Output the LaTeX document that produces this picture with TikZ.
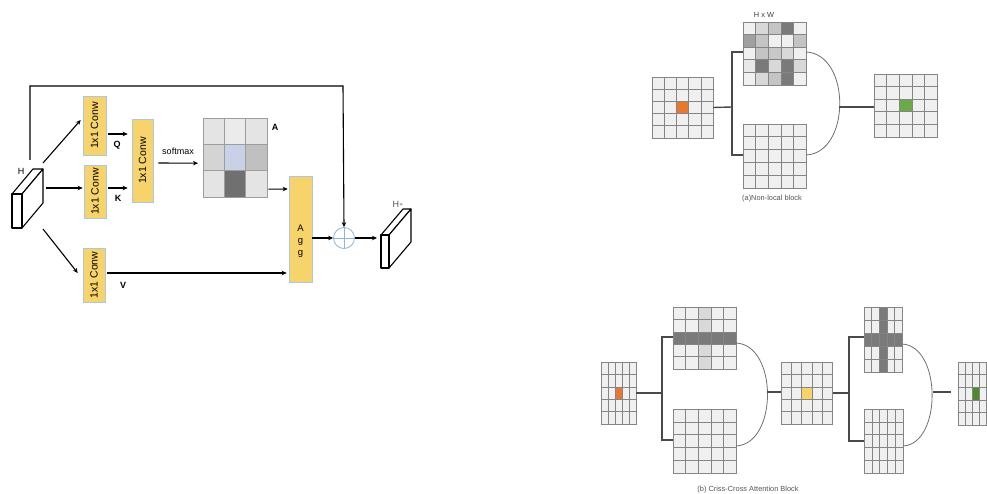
\documentclass[tikz,border=0pt]{standalone}
\usepackage{fontspec}
\setmainfont{Liberation Sans}
\usetikzlibrary{arrows.meta,calc}

\definecolor{convfill}{HTML}{F7D36B}
\definecolor{convedge}{HTML}{A9C9E3}
\definecolor{cellfill}{HTML}{F0F0F0}
\definecolor{cellline}{HTML}{858585}
\definecolor{linkgray}{HTML}{4A4A4A}
\definecolor{arcgray}{HTML}{707070}
\definecolor{capgray}{HTML}{555555}
\definecolor{plusblue}{HTML}{8DB6DD}
\definecolor{orangecell}{HTML}{E8782F}
\definecolor{greencellA}{HTML}{6AAA48}
\definecolor{greencellB}{HTML}{4E8A2C}
\definecolor{yellowcell}{HTML}{F5D46A}
\definecolor{softblue}{HTML}{C9D1E6}

\tikzset{
  conv/.style={draw=convedge, fill=convfill, line width=0.6pt, inner sep=0pt,
               font=\fontsize{10.5}{11}\selectfont},
  arr/.style={-{Stealth[length=5pt,width=4.5pt]}, line width=1.1pt, black},
  cellbox/.style={draw=cellline, fill=cellfill, line width=0.6pt},
  link/.style={draw=linkgray, line width=1.4pt},
  fuse/.style={draw=arcgray, line width=0.8pt},
  slab/.style={draw=black, line width=1.1pt, fill=white, line join=round},
  lbl/.style={font=\fontsize{9}{10}\selectfont, inner sep=0pt},
  captext/.style={font=\fontsize{7.4}{8}\selectfont, text=capgray, inner sep=0pt},
}

% 5x5 grid of cells: name, left, top, cell width, cell height
\newcommand\cellgrid[5]{%
  \node[inner sep=0pt, outer sep=0pt, minimum width={5*#4pt}, minimum height={5*#5pt},
        anchor=north west] (#1) at (#2,#3) {};
  \foreach \ci in {0,...,4}{\foreach \cj in {0,...,4}{
    \draw[cellbox] ({#2+\ci*#4},{#3+\cj*#5}) rectangle ++(#4,#5);}}%
}
% one coloured cell: left, top, cell width, cell height, column, row, colour
\newcommand\paintcell[7]{%
  \draw[cellbox, fill=#7] ({#1+#5*#3},{#2+#6*#4}) rectangle ++(#3,#4);%
}

\begin{document}
\begin{tikzpicture}[x=1pt,y=-1pt]
\useasboundingbox (0,0) rectangle (987,494);
\clip (0,0) rectangle (987,494);
\fill[white] (0,0) rectangle (987,494);

% ---------------- attention module (left) ----------------
% input feature slab H
\draw[slab] (12,194) -- (33,169) -- (43,169) -- (22,194) -- cycle;
\draw[slab] (22,194) -- (43,169) -- (43,203) -- (22,228) -- cycle;
\draw[slab] (12,194) rectangle (22,228);
\node[lbl] (hlabel) at (21,171) {H};
\coordinate (hq) at (43,163);
\coordinate (hk) at (46,188);
\coordinate (hv) at (43,229);
\coordinate (htop) at (30,160);

% 1x1 convolutions
\node[conv, minimum width=23pt, minimum height=59pt] (qc) at (94.5,125.5) {\rotatebox{90}{1x1 Conw}};
\node[conv, minimum width=22pt, minimum height=53pt] (kc) at (95,191.5) {\rotatebox{90}{1x1 Conw}};
\node[conv, minimum width=22pt, minimum height=54pt] (vc) at (94,275) {\rotatebox{90}{1x1 Conw}};
\node[conv, minimum width=21pt, minimum height=83pt] (mc) at (142.5,160.5) {\rotatebox{90}{1x1 Conw}};
\node[conv, minimum width=23pt, minimum height=106pt] (agg) at (300.5,229) {};
\node[lbl, align=center, font=\fontsize{9.5}{12}\selectfont] (aggtxt) at (300.5,241) {A\\g\\g};

% affinity map A
\node[inner sep=0pt, minimum width=64pt, minimum height=79pt, anchor=north west] (amap) at (203,118) {};
\foreach \c/\r/\g in {0/0/228,1/0/235,2/0/228,0/1/212,2/1/192,0/2/228,1/2/112,2/2/228}{
  \draw[draw=cellline!80, line width=0.6pt, fill={rgb,255:red,\g;green,\g;blue,\g}]
    ({203+\c*21.33},{118+\r*26.33}) rectangle ++(21.33,26.33);}
\draw[draw=cellline!80, line width=0.6pt, fill=softblue] ({203+21.33},{118+26.33}) rectangle ++(21.33,26.33);
\node[lbl, font=\bfseries\fontsize{9}{10}\selectfont] (alabel) at (275,127) {A};

% element-wise sum
\node[circle, draw=plusblue, line width=0.8pt, minimum size=21pt, inner sep=0pt] (sum) at (344,238) {};
\draw[plusblue, line width=0.8pt] (sum.north) -- (sum.south) (sum.west) -- (sum.east);

% output slab H*
\draw[slab] (381,235) -- (403,209) -- (411,209) -- (389,235) -- cycle;
\draw[slab] (389,235) -- (411,209) -- (411,242) -- (389,268) -- cycle;
\draw[slab] (381,235) rectangle (389,268);
\coordinate (hout) at (381,238);
\node[lbl, text=capgray] (hstar) at (398,204) {H\raisebox{0.5pt}{\fontsize{7}{7}\selectfont$\ast$}};

% connectors
\draw[arr] (hq) -- ($(qc.west)+(-2,-5.5)$);
\draw[arr] (hk) -- ($(kc.west)+(-1,-3.5)$);
\draw[arr] (hv) -- ($(vc.west)+(-5,-2)$);
\draw[arr] ($(qc.east)+(2,8.5)$) -- ($(mc.west)+(-4,-26.5)$);
\draw[arr] ($(kc.east)+(2,-3.5)$) -- ($(mc.west)+(-4,27.5)$);
\node[lbl, font=\bfseries\fontsize{9}{10}\selectfont] (qlabel) at (117,145) {Q};
\node[lbl, font=\bfseries\fontsize{9}{10}\selectfont] (klabel) at (118,198) {K};
\draw[arr] ($(mc.east)+(5,2.5)$) -- ($(amap.west)+(-5,5.5)$);
\node[lbl] (smax) at (178,151) {softmax};
\draw[arr] ($(amap.east)+(1,31.5)$) -- ($(agg.west)+(-1,-40)$);
\draw[arr] ($(vc.east)+(2,-2)$) -- ($(agg.west)+(-2,44)$);
\node[lbl, font=\bfseries\fontsize{9}{10}\selectfont] (vlabel) at (123,285) {V};
\draw[arr] ($(agg.east)+(0,9)$) -- (sum.west);
\draw[arr] (sum.east) -- ($(hout)+(-4,0)$);
\draw[arr] (htop) -- (30,86) -- (343,86) -- (sum.north);

% ---------------- (a) non-local block ----------------
\cellgrid{na}{652}{77}{12.2}{12.2}
\paintcell{652}{77}{12.2}{12.2}{2}{2}{orangecell}
\cellgrid{nt}{743}{22}{12.6}{12.6}
\foreach \c/\r/\g in {1/0/216,2/0/196,3/0/122,0/1/160,1/1/196,4/1/196,1/2/196,2/2/200,3/2/216,
                      0/3/232,1/3/122,2/3/216,3/3/122,4/3/216,1/4/216,2/4/196,3/4/122}{
  \draw[cellbox, fill={rgb,255:red,\g;green,\g;blue,\g}] ({743+\c*12.6},{22+\r*12.6}) rectangle ++(12.6,12.6);}
\cellgrid{nb}{743}{124}{12.6}{12.8}
\cellgrid{nr}{874}{74}{12.6}{12.6}
\paintcell{874}{74}{12.6}{12.6}{2}{2}{greencellA}
\node[captext, text=black!75] (hw) at (764,15) {H x W};
\coordinate (nsplit) at (732,107);
\coordinate (njoin) at (839,107);
\draw[link] (na.east) -- (nsplit);
\draw[link] (743,52) -| (732,155) -- (743,155);
\draw[fuse] (806,52) .. controls (851,54) and (851,153) .. (806,155);
\draw[link] (njoin) -- (nr.west |- njoin);
\node[captext] (capa) at (772,199) {(a)Non-local block};

% ---------------- (b) criss-cross attention block ----------------
\cellgrid{ca}{601}{362}{7}{12.4}
\paintcell{601}{362}{7}{12.4}{2}{2}{orangecell}
\cellgrid{ct}{673}{307}{12.6}{12.4}
\foreach \r in {0,1,3,4}{\paintcell{673}{307}{12.6}{12.4}{2}{\r}{black!15}}
\foreach \c in {0,...,4}{\paintcell{673}{307}{12.6}{12.4}{\c}{2}{black!52}}
\cellgrid{cb}{673}{409}{12.6}{12.8}
\cellgrid{cm}{781}{362}{10.3}{12.4}
\paintcell{781}{362}{10.3}{12.4}{2}{2}{yellowcell}
\cellgrid{cu}{864}{307}{7.6}{13}
\foreach \r in {0,1,3,4}{\paintcell{864}{307}{7.6}{13}{2}{\r}{black!52}}
\foreach \c in {0,...,4}{\paintcell{864}{307}{7.6}{13}{\c}{2}{black!52}}
\cellgrid{cd}{864}{409}{7.8}{12.8}
\cellgrid{cr}{958}{362}{7}{12.6}
\paintcell{958}{362}{7}{12.6}{2}{2}{greencellB}

\coordinate (csplit1) at (662,393);
\coordinate (cjoin1) at (767,392);
\coordinate (csplit2) at (849,393);
\coordinate (cjoin2) at (933,392);
\coordinate (cend) at (951,392);
\draw[link] (ca.east |- csplit1) -- (csplit1);
\draw[link] (673,337) -| (662,440) -- (673,440);
\draw[fuse] (736,343) .. controls (778,345) and (778,444) .. (736,446);
\draw[link] (cjoin1) -- (cm.west |- cjoin1);
\draw[link] (cm.east |- csplit2) -- (csplit2);
\draw[link] (864,337) -| (849,441) -- (864,441);
\draw[fuse] (902,344) .. controls (942,346) and (942,444) .. (903,446);
\draw[link] (cjoin2) -- (cend);
\node[captext] (capb) at (748,490) {(b) Criss-Cross Attention Block};
\end{tikzpicture}
\end{document}
